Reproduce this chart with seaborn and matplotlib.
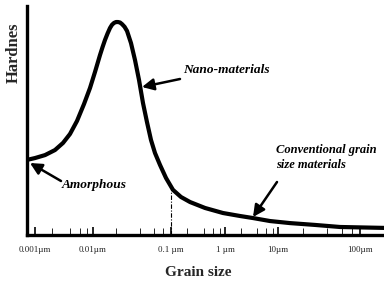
import numpy as np
import matplotlib
matplotlib.use("Agg")
import matplotlib.pyplot as plt
import matplotlib.ticker as mticker
import seaborn as sns
import pandas as pd

# ---- data (grain size in µm, hardness in arbitrary units) ----
grain_size = [0.000728, 0.001, 0.00149, 0.00221, 0.00304, 0.00401, 0.00530, 0.00700,
              0.00888, 0.01061, 0.01230, 0.01327, 0.01426, 0.01537, 0.01652, 0.01752,
              0.01858, 0.01972, 0.02092, 0.02220, 0.02355, 0.02540,
              0.02730, 0.03070, 0.03455, 0.03890, 0.04376, 0.04922, 0.05540, 0.06234,
              0.07228, 0.08630, 0.1089, 0.153, 0.225, 0.427, 0.918, 1.92, 3.38, 7.06,
              14.0, 28.2, 57.0, 196.0]
hardness = [32.8, 33.6, 34.9, 37.1, 40.2, 44.1, 49.8, 57.2,
            64.2, 71.2, 78.6, 82.1, 85.2, 88.0, 90.4, 91.8,
            92.6, 93.0, 93.0, 92.8, 92.1, 90.9,
            89.1, 83.8, 76.4, 67.7, 57.6, 49.3, 41.5, 35.8,
            30.6, 24.9, 19.7, 16.6, 14.4, 11.8, 9.6, 8.3, 7.4, 6.1,
            5.2, 4.4, 3.5, 3.1]
tick_values = [0.001, 0.01, 0.1, 1, 10, 100]
tick_labels = ["0.001µm", "0.01µm", "0.1 µm", "1 µm", "10µm", "100µm"]
marker_size = 0.1

# ---- hand-drawn (uneven) decade scale of the original figure ----
dec_exp = np.array([-3.0, -2.0, -1.0, 0.0, 1.0, 2.0])
dec_pos = np.array([0.0, 58.0, 136.0, 190.0, 243.0, 325.0])


def _interp_extrap(v, xp, fp):
    v = np.asarray(v, dtype=float)
    out = np.interp(v, xp, fp)
    lo = v < xp[0]
    hi = v > xp[-1]
    s0 = (fp[1] - fp[0]) / (xp[1] - xp[0])
    s1 = (fp[-1] - fp[-2]) / (xp[-1] - xp[-2])
    out = np.where(lo, fp[0] + (v - xp[0]) * s0, out)
    out = np.where(hi, fp[-1] + (v - xp[-1]) * s1, out)
    return out


def fwd(x):
    x = np.asarray(x, dtype=float)
    return _interp_extrap(np.log10(np.clip(x, 1e-12, None)), dec_exp, dec_pos)


def inv(p):
    return 10 ** _interp_extrap(p, dec_pos, dec_exp)


sns.set_style("white")
plt.rcParams["font.family"] = ["Liberation Serif", "DejaVu Serif"]

fig = plt.figure(figsize=(3.84, 2.81), dpi=100)
ax = fig.add_axes([27 / 384, 46 / 281, 357 / 384, 229 / 281])

df = pd.DataFrame({"size": grain_size, "hardness": hardness})
sns.lineplot(data=df, x="size", y="hardness", ax=ax, color="black", lw=3.0,
             solid_capstyle="round", solid_joinstyle="round")

ax.set_xscale("function", functions=(fwd, inv))
ax.set_xlim(float(inv(-8.0)), float(inv(349.0)))
ax.set_ylim(0, 100)

# dash-dot marker line at 0.1 µm up to the curve
h_at = np.interp(np.log10(marker_size), np.log10(grain_size), hardness)
ax.vlines(marker_size, 0, h_at, colors="black", linestyles=(0, (4, 1.5, 1, 1.5)), lw=0.8)

# ticks
minor = [m * 10.0 ** e for e in range(-3, 3) for m in (2, 4, 6, 8)]
minor = [v for v in minor if v < 150]
ax.xaxis.set_major_locator(mticker.FixedLocator(tick_values))
ax.xaxis.set_major_formatter(mticker.FixedFormatter(tick_labels))
ax.xaxis.set_minor_locator(mticker.FixedLocator(minor))
ax.xaxis.set_minor_formatter(mticker.NullFormatter())
ax.tick_params(axis="x", which="major", direction="in", length=5.5, width=1.4,
               labelsize=6.5, pad=8, bottom=True)
ax.tick_params(axis="x", which="minor", direction="in", length=5, width=0.7, bottom=True)
ax.set_yticks([])

for side in ("top", "right"):
    ax.spines[side].set_visible(False)
for side in ("left", "bottom"):
    ax.spines[side].set_linewidth(2.4)
    ax.spines[side].set_color("black")

ax.set_xlabel("Grain size", fontsize=11, fontweight="bold", va="center")
ax.xaxis.set_label_coords(0.479, -0.162)
ax.set_ylabel("Hardnes", fontsize=12, fontweight="bold", va="center", ha="center")
ax.yaxis.set_label_coords(-0.036, 0.795)

# annotations (figure pixel coordinates)
arrow = dict(arrowstyle="-|>,head_length=0.7,head_width=0.35", lw=1.8, color="black",
             shrinkA=0, shrinkB=0)
txt = dict(fontsize=9.6, fontweight="bold", fontstyle="italic", color="black")
ax.annotate("", xy=(142, 194), xytext=(180, 202), xycoords="figure pixels",
            textcoords="figure pixels", arrowprops=arrow)
fig.text(183 / 384, 211 / 281, "Nano-materials", ha="left", va="center", **txt)

ax.annotate("", xy=(253, 64), xytext=(277, 99), xycoords="figure pixels",
            textcoords="figure pixels", arrowprops=arrow)
txt_small = dict(txt, fontsize=9.0)
fig.text(276 / 384, 123.5 / 281, "Conventional grain\nsize materials", ha="left",
         va="center", linespacing=1.42, **txt_small)

ax.annotate("", xy=(30, 118), xytext=(61, 100), xycoords="figure pixels",
            textcoords="figure pixels", arrowprops=arrow)
fig.text(62 / 384, 96 / 281, "Amorphous", ha="left", va="center", **txt)

fig.savefig("out.png", dpi=100)
